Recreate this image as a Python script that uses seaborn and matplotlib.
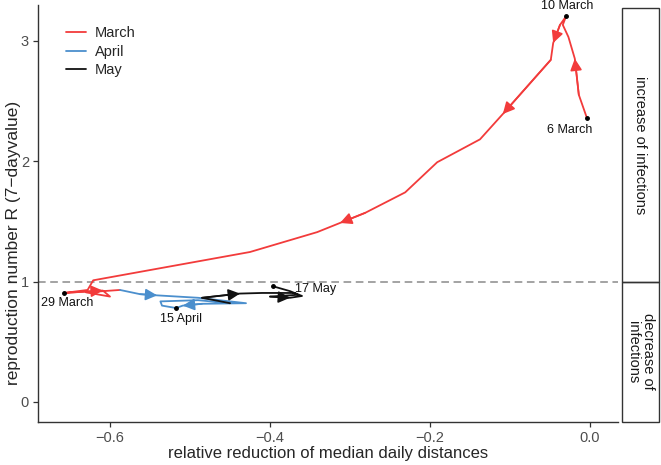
import pandas as pd
import matplotlib.pyplot as plt
from matplotlib.patches import Rectangle
import seaborn as sns

# ── data ──────────────────────────────────────────────────────────────────────
months = ["March", "April", "May"]

march_dist = [-0.004, -0.014, -0.019, -0.027, -0.034, -0.030, -0.0375, -0.046,
              -0.049, -0.109, -0.1375, -0.191, -0.231, -0.281, -0.3125, -0.341,
              -0.425, -0.621, -0.628, -0.6575, -0.609, -0.600, -0.630, -0.5875]
march_r    = [2.36, 2.55, 2.85, 3.03, 3.13, 3.20, 3.13, 2.98,
              2.84, 2.39, 2.18, 1.99, 1.74, 1.57, 1.486, 1.41,
              1.245, 1.01, 0.93, 0.905, 0.925, 0.875, 0.91, 0.93]

april_dist = [-0.5625, -0.541, -0.49, -0.43, -0.485, -0.509, -0.5175, -0.535,
              -0.537, -0.49, -0.45]
april_r    = [0.895, 0.885, 0.865, 0.82, 0.815, 0.80, 0.78, 0.80,
              0.835, 0.845, 0.82]

may_dist = [-0.485, -0.4375, -0.41, -0.37, -0.365, -0.40, -0.375, -0.36,
            -0.375, -0.396]
may_r    = [0.865, 0.90, 0.905, 0.905, 0.89, 0.875, 0.865, 0.88,
            0.92, 0.96]

# vertices where an arrow head sits (direction from the previous vertex)
arrow_idx = {"March": [2, 7, 9, 14, 20], "April": [1, 5], "May": [1, 6]}

# labelled days: (label, month, index, offset in pixels)
day_labels = [
    ("6 March",  "March", 0,  (-17, -12)),
    ("10 March", "March", 5,  (1, 10)),
    ("29 March", "March", 19, (3, -10)),
    ("15 April", "April", 6,  (5, -11)),
    ("17 May",   "May",   9,  (42, -3)),
]

COLORS = {"March": "#F23B3B", "April": "#4B8FCD", "May": "#111111"}

# ── build long table; each month starts where the previous one ended ─────────
paths = {"March": (march_dist, march_r),
         "April": (april_dist, april_r),
         "May":   (may_dist, may_r)}
rows = []
prev = None
for m in months:
    xs, ys = paths[m]
    if prev is not None:
        rows.append((m, prev[0], prev[1]))
    rows += [(m, x, y) for x, y in zip(xs, ys)]
    prev = (xs[-1], ys[-1])
df = pd.DataFrame(rows, columns=["month", "dist", "R"])

# ── plot ──────────────────────────────────────────────────────────────────────
sns.set_theme(style="white")
plt.rcParams["font.family"] = ["Liberation Sans", "DejaVu Sans"]

fig = plt.figure(figsize=(6.61, 4.65), dpi=100)
ax = fig.add_axes([38 / 661, 43 / 465, 580 / 661, 417 / 465])

sns.lineplot(data=df, x="dist", y="R", hue="month", hue_order=months,
             palette=COLORS, sort=False, estimator=None, linewidth=1.3, ax=ax)

for m in months:
    xs, ys = paths[m]
    full_x = list(df.loc[df["month"] == m, "dist"])
    full_y = list(df.loc[df["month"] == m, "R"])
    shift = len(full_x) - len(xs)
    for i in arrow_idx[m]:
        j = i + shift
        ax.annotate("", xy=(full_x[j], full_y[j]), xytext=(full_x[j - 1], full_y[j - 1]),
                    arrowprops=dict(arrowstyle="-|>,head_length=0.5,head_width=0.25",
                                    color=COLORS[m], lw=1.2,
                                    mutation_scale=14, shrinkA=0, shrinkB=0))

for label, m, i, off in day_labels:
    xs, ys = paths[m]
    ax.plot(xs[i], ys[i], "o", color="black", markersize=2.5, zorder=5)
    ax.annotate(label, (xs[i], ys[i]), xytext=off, textcoords="offset pixels",
                ha="center", va="center", fontsize=9, color="#111111")

ax.axhline(1, color="#8a8a8a", linestyle=(0, (5, 3)), linewidth=1.1, zorder=0)

ax.set_xlim(-0.69, 0.035)
ax.set_ylim(-0.166, 3.295)
ax.set_xticks([-0.6, -0.4, -0.2, 0.0])
ax.set_xticklabels(["−0.6", "−0.4", "−0.2", "0.0"])
ax.set_yticks([0, 1, 2, 3])
ax.tick_params(axis="both", length=3.5, width=0.9, color="#333333",
               labelcolor="#4D4D4D", labelsize=10.5, bottom=True, left=True, pad=3)
for side in ["top", "right"]:
    ax.spines[side].set_visible(False)
for side in ["left", "bottom"]:
    ax.spines[side].set_color("#333333")
    ax.spines[side].set_linewidth(1.0)
ax.set_xlabel("relative reduction of median daily distances", fontsize=12, labelpad=1)
ax.set_ylabel("reproduction number R (7−dayvalue)", fontsize=12.5)
ax.yaxis.set_label_coords(-0.030, 0.43)

leg = ax.legend(loc="upper left", bbox_to_anchor=(0.025, 0.98), frameon=False,
                fontsize=10.5, handlelength=1.4, handletextpad=0.6, labelspacing=0.3,
                title=None)

# ── right-hand strip ─────────────────────────────────────────────────────────
ax2 = fig.add_axes([622 / 661, 43 / 465, 37 / 661, 417 / 465])
ax2.set_xlim(0, 1)
ax2.set_ylim(ax.get_ylim())
ax2.axis("off")
top_r = 3.27
bot_r = ax.get_ylim()[0]
ax2.add_patch(Rectangle((0, 1), 1, top_r - 1, fill=False, edgecolor="#333333",
                        linewidth=1.0, clip_on=False))
ax2.add_patch(Rectangle((0, bot_r), 1, 1 - bot_r, fill=False, edgecolor="#333333",
                        linewidth=1.0, clip_on=False))
ax2.text(0.5, (1 + top_r) / 2, "increase of infections", rotation=270,
         ha="center", va="center", fontsize=10.5, color="#1a1a1a")
ax2.text(0.5, (1 + bot_r) / 2, "decrease of\ninfections", rotation=270,
         ha="center", va="center", fontsize=10.5, color="#1a1a1a", linespacing=1.0)

fig.savefig("out.png", dpi=100)
